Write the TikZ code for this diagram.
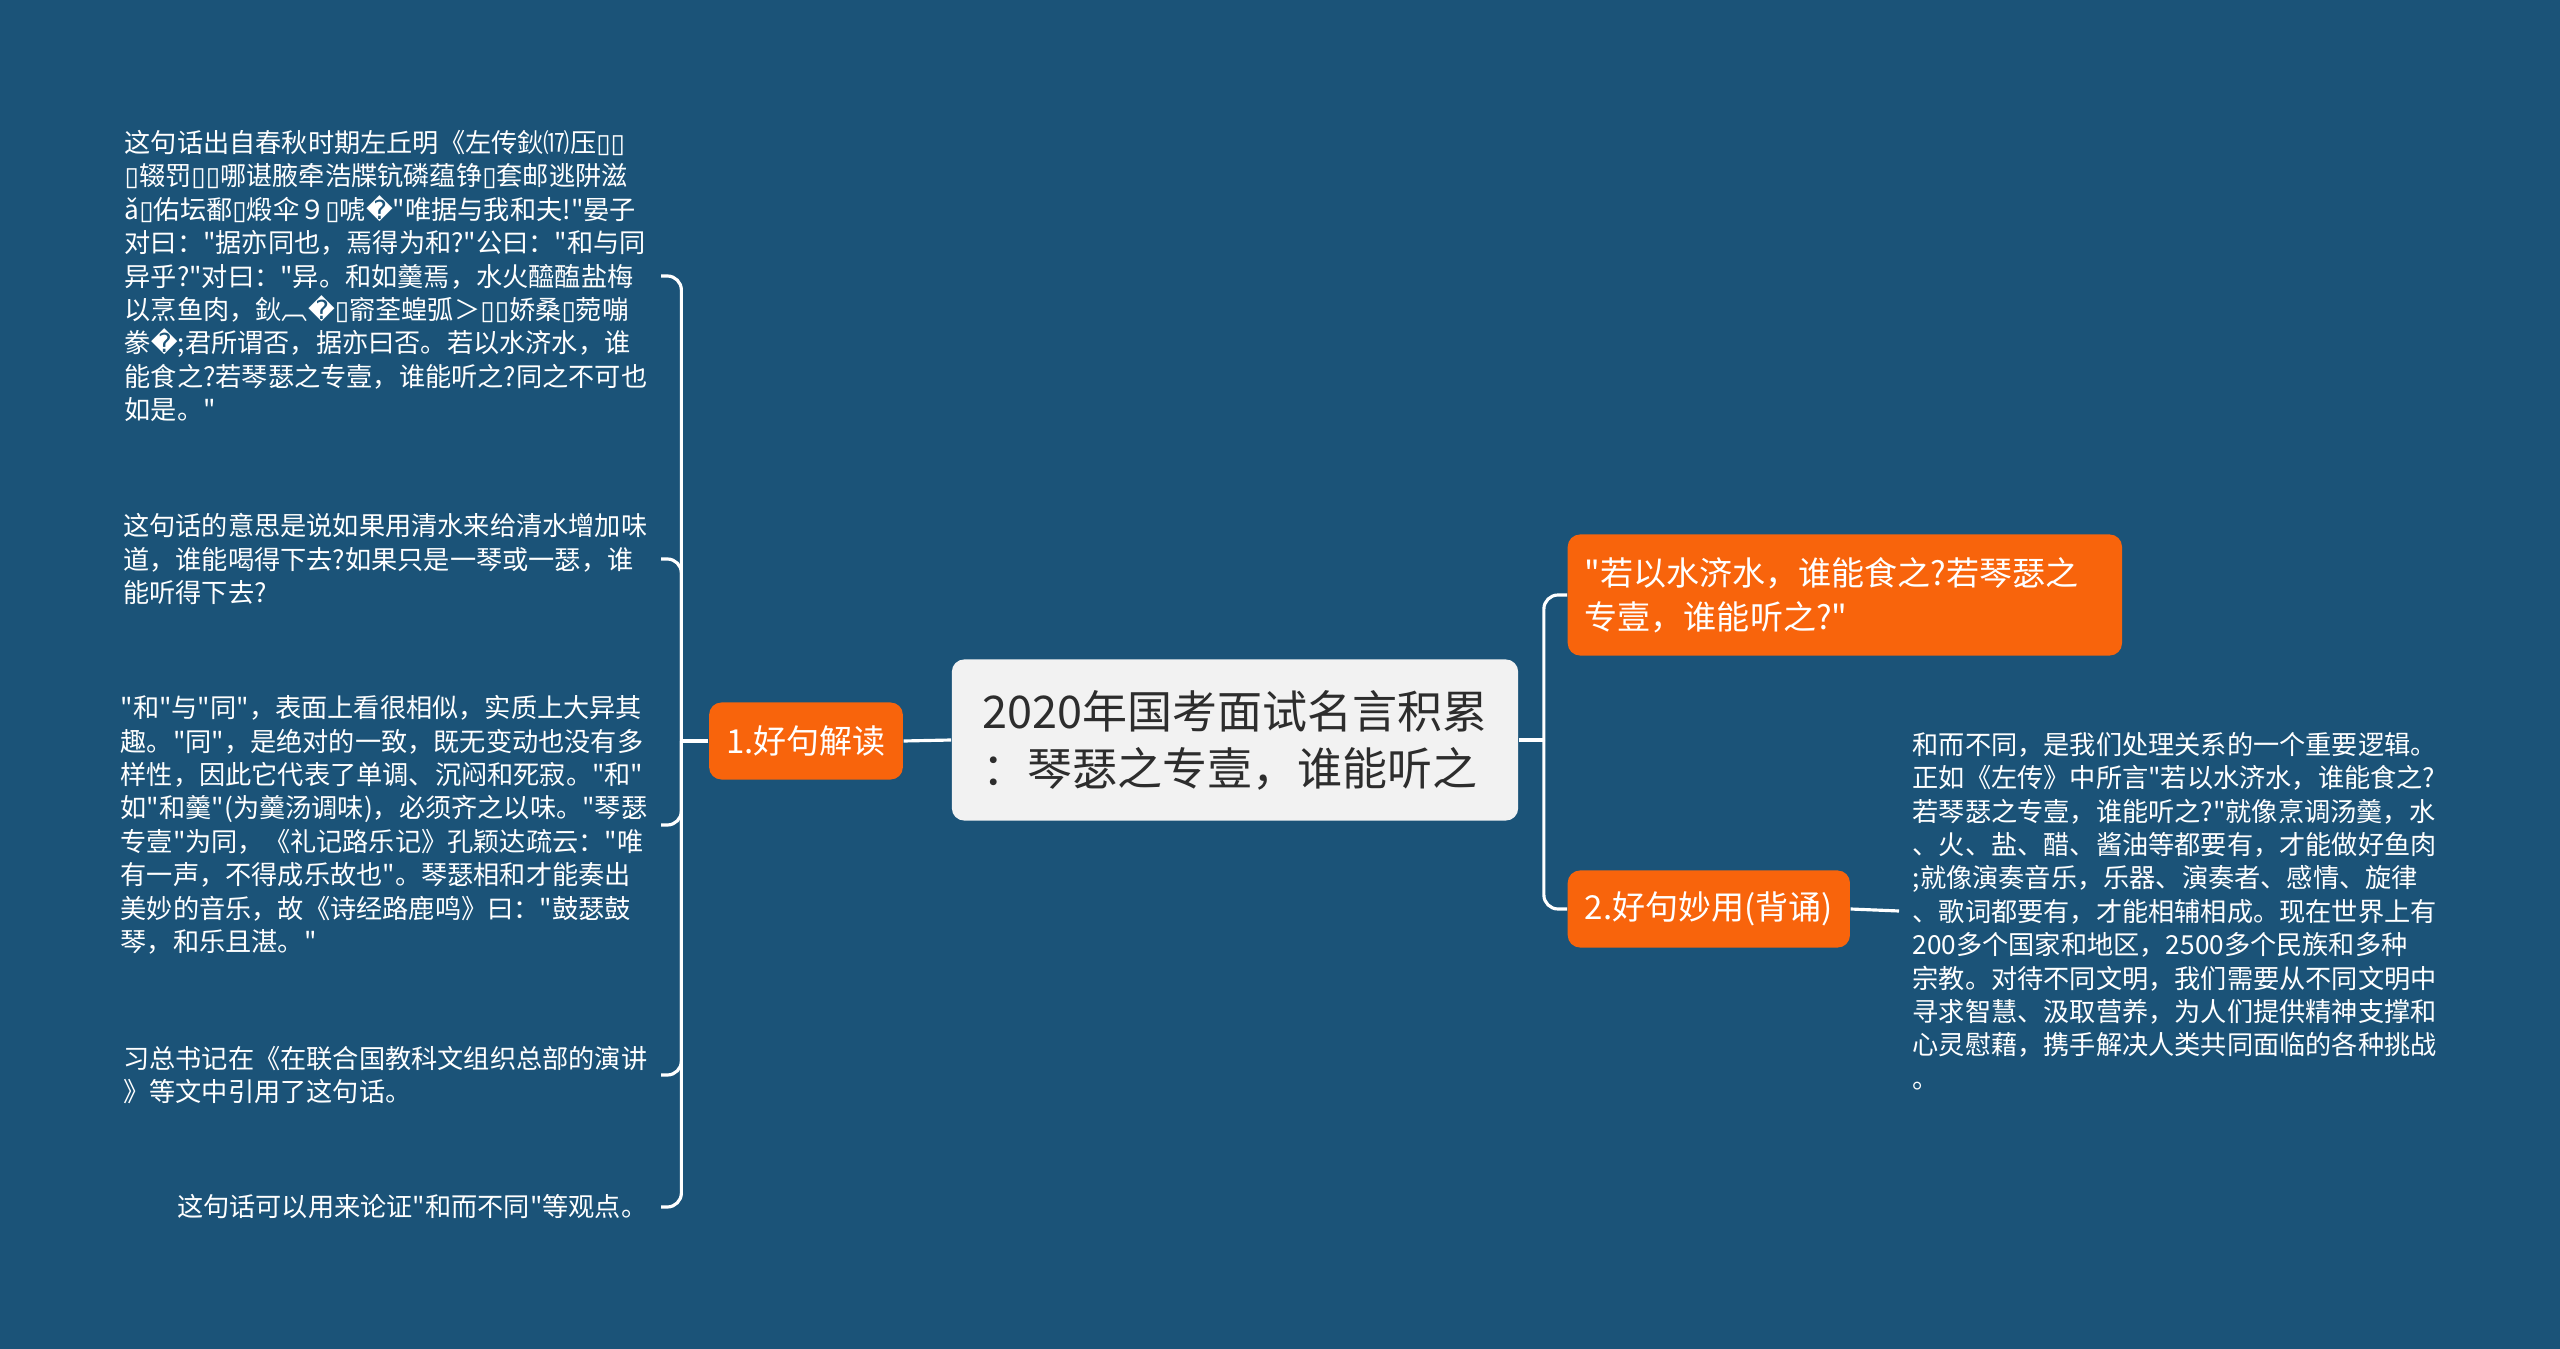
\documentclass[tikz,border=0pt]{standalone}
\usepackage{fontspec}
\setmainfont{Noto Sans CJK SC}[Ligatures=TeXOff]
\newfontfamily\djv{DejaVu Sans}
\usepackage{xcolor}
\definecolor{bgblue}{RGB}{27,83,120}
\definecolor{mmorange}{RGB}{248,100,12}
\definecolor{rootgray}{RGB}{242,242,242}
\definecolor{rootink}{RGB}{45,45,45}
\newcommand{\tofu}{{\djv\symbol{"25AF}}}
\newcommand{\badch}{{\djv\symbol{"FFFD}}}

\begin{document}
\begin{tikzpicture}[x=0.01cm,y=-0.01cm,
  rootbox/.style={rectangle,rounded corners=3.5pt,fill=rootgray,text=rootink,align=left,
    font=\fontsize{12.8pt}{16.2pt}\selectfont,minimum width=5.66cm,minimum height=1.61cm},
  branchbox/.style={rectangle,rounded corners=3.5pt,fill=mmorange,text=white,align=left,
    font=\fontsize{9.4pt}{12.5pt}\selectfont,inner xsep=0.17cm,minimum height=0.77cm},
  leaftext/.style={text=white,align=left,inner sep=0.13cm,font=\fontsize{7.45pt}{9.5pt}\selectfont},
  link/.style={draw=white,line width=0.9pt,rounded corners=4pt}]
\fill[bgblue] (0,0) rectangle (2560,1349);
\useasboundingbox (0,0) rectangle (2560,1349);
\node[rootbox] (root) at (1235,740) {2020年国考面试名言积累\\：琴瑟之专壹，谁能听之};
\node[branchbox] (good1) at (806,741) {1.好句解读};
\node[branchbox,anchor=west,text width=5.2cm,minimum height=1.21cm] (quote) at (1567,595)
  {"若以水济水，谁能食之?若琴瑟之\\专壹，谁能听之?"};
\node[branchbox,anchor=west] (good2) at (1567,909) {2.好句妙用(背诵)};
\node[leaftext,anchor=east] (la) at (661,276) {这句话出自春秋时期左丘明《左传鈥⒄压\tofu\tofu\\
\tofu 辍罚\tofu\tofu 哪谌腋牵浩牒钪磷蕴铮\tofu 套邮逃阱滋\\
ǎ\tofu 佑坛鄱\tofu 煅伞９\tofu 唬\badch"唯据与我和夫!"晏子\\
对曰："据亦同也，焉得为和?"公曰："和与同\\
异乎?"对曰："异。和如羹焉，水火醯醢盐梅\\
以烹鱼肉，鈥︹\badch\tofu 窬荃蝗弧＞\tofu\tofu 娇桑\tofu 菀嘣\\
豢\badch;君所谓否，据亦曰否。若以水济水，谁\\
能食之?若琴瑟之专壹，谁能听之?同之不可也\\
如是。"};
\node[leaftext,anchor=east] (lb) at (661,559) {这句话的意思是说如果用清水来给清水增加味\\
道，谁能喝得下去?如果只是一琴或一瑟，谁\\
能听得下去?};
\node[leaftext,anchor=east] (lc) at (661,825) {"和"与"同"，表面上看很相似，实质上大异其\\
趣。"同"，是绝对的一致，既无变动也没有多\\
样性，因此它代表了单调、沉闷和死寂。"和"\\
如"和羹"(为羹汤调味)，必须齐之以味。"琴瑟\\
专壹"为同，《礼记路乐记》孔颖达疏云："唯\\
有一声，不得成乐故也"。琴瑟相和才能奏出\\
美妙的音乐，故《诗经路鹿鸣》曰："鼓瑟鼓\\
琴，和乐且湛。"};
\node[leaftext,anchor=east] (ld) at (661,1075) {习总书记在《在联合国教科文组织总部的演讲\\
》等文中引用了这句话。};
\node[leaftext,anchor=east] (le) at (661,1207) {这句话可以用来论证"和而不同"等观点。};
\node[leaftext,anchor=west] (usage) at (1899,911) {和而不同，是我们处理关系的一个重要逻辑。\\
正如《左传》中所言"若以水济水，谁能食之?\\
若琴瑟之专壹，谁能听之?"就像烹调汤羹，水\\
、火、盐、醋、酱油等都要有，才能做好鱼肉\\
;就像演奏音乐，乐器、演奏者、感情、旋律\\
、歌词都要有，才能相辅相成。现在世界上有\\
200多个国家和地区，2500多个民族和多种\\
宗教。对待不同文明，我们需要从不同文明中\\
寻求智慧、汲取营养，为人们提供精神支撑和\\
心灵慰藉，携手解决人类共同面临的各种挑战\\
。};
\draw[link] (root.west) -- (good1.east);
\draw[link] (good1.west) -- ++(-27,0) coordinate (lfork);
\foreach \leaf in {la,lb,lc,ld,le}
  \draw[link] (lfork) |- (\leaf.east);
\draw[link] (root.east) -- ++(25,0) coordinate (rfork);
\foreach \leaf in {quote,good2}
  \draw[link] (rfork) |- (\leaf.west);
\draw[link] (good2.east) -- (usage.west);
\end{tikzpicture}
\end{document}
